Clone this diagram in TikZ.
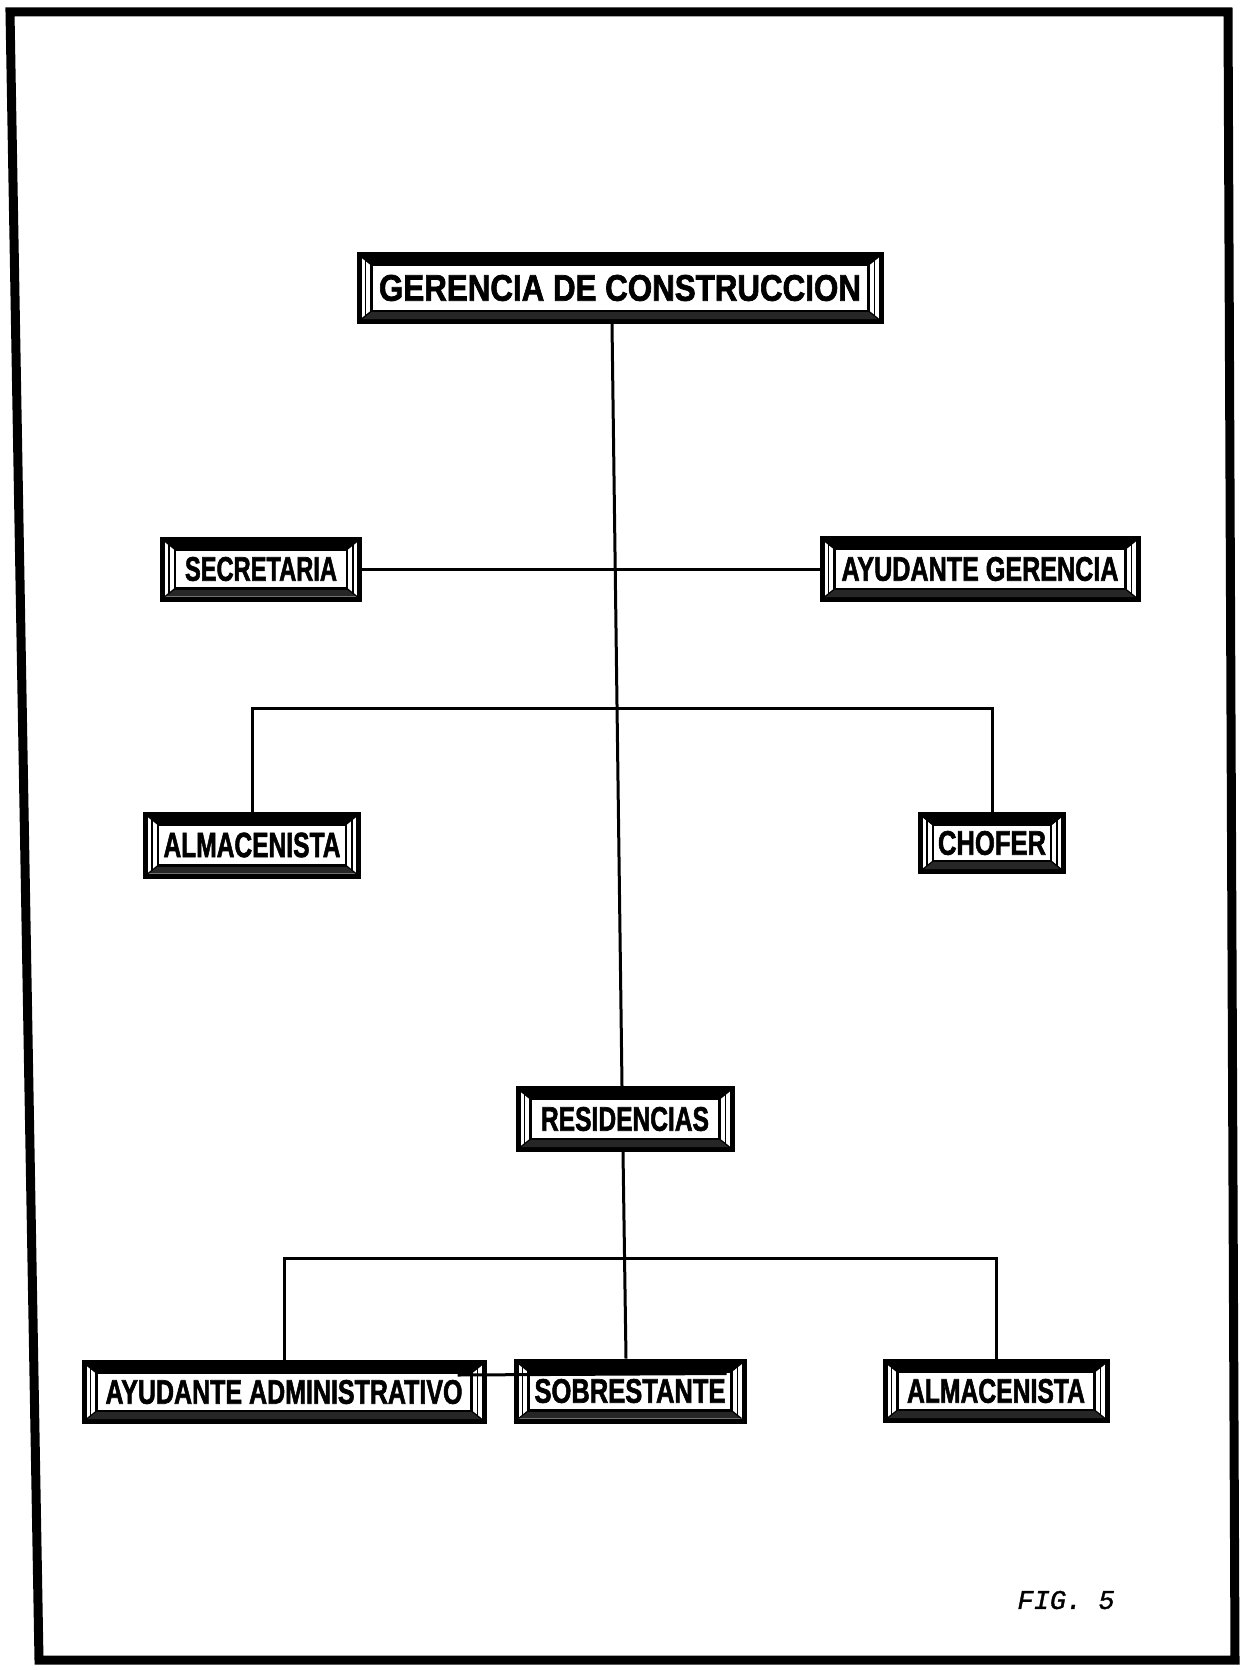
\documentclass[tikz,border=0pt]{standalone}
\usepackage{fontspec}
\usepackage{graphicx}
\usetikzlibrary{backgrounds,calc}
\newfontfamily\orgfont[FakeBold=2]{Liberation Sans}
\newfontfamily\figfont[FakeBold=1.2]{Liberation Mono}
\tikzset{
  orgnode/.style={rectangle, inner sep=0pt, outer sep=0pt},
  conn/.style={line width=3pt, black},
  frameline/.style={line width=9pt, line join=miter, black},
}
\newcommand\myorgframe[1]{%
  \fill[black] (#1.north west) rectangle (#1.south east);
  \fill[white] ([shift={(5,5)}]#1.north west) rectangle ([shift={(-5,-5)}]#1.south east);
  \fill[black] ([shift={(5,5)}]#1.north west) -- ([shift={(-5,5)}]#1.north east)
     -- ([shift={(-15,13)}]#1.north east) -- ([shift={(15,13)}]#1.north west) -- cycle;
  \fill[black!85] ([shift={(5,-5)}]#1.south west) -- ([shift={(-5,-5)}]#1.south east)
     -- ([shift={(-15,-13)}]#1.south east) -- ([shift={(15,-13)}]#1.south west) -- cycle;
  \draw[line width=1.2pt] ([shift={(5,5)}]#1.north west) -- ([shift={(15,13)}]#1.north west)
     ([shift={(-5,5)}]#1.north east) -- ([shift={(-15,13)}]#1.north east)
     ([shift={(5,-5)}]#1.south west) -- ([shift={(15,-13)}]#1.south west)
     ([shift={(-5,-5)}]#1.south east) -- ([shift={(-15,-13)}]#1.south east);
  \draw[line width=1.5pt] ([shift={(9,8)}]#1.north west) -- ([shift={(9,-8)}]#1.south west)
     ([shift={(-9,8)}]#1.north east) -- ([shift={(-9,-8)}]#1.south east);
  \draw[line width=2.5pt, fill=white] ([shift={(15,13)}]#1.north west) rectangle ([shift={(-15,-13)}]#1.south east);
}
\newcommand\myorgbox[8]{%
  \node[orgnode, minimum width=#4pt, minimum height=#5pt] (#1) at (#2,#3)
    {\resizebox{#6pt}{\height}{\fontsize{#8}{#8}\orgfont\bfseries #7}};
  \begin{pgfonlayer}{background}\myorgframe{#1}\end{pgfonlayer}%
}
\begin{document}
\begin{tikzpicture}[x=1pt,y=-1pt]
\useasboundingbox (0,0) rectangle (1243,1670);
% outer frame
\draw[frameline] (10,12) -- (1228,12) -- (1235,1660) -- (39,1660) -- cycle;

\myorgbox{ger}{620}{288}{527}{72}{482}{GERENCIA DE CONSTRUCCION}{37}
\myorgbox{sec}{261}{569}{202}{65}{152}{SECRETARIA}{34}
\myorgbox{ayg}{980}{569}{321}{66}{277}{AYUDANTE GERENCIA}{34}
\myorgbox{almA}{252}{845}{218}{67}{177}{ALMACENISTA}{35}
\myorgbox{chof}{992}{843}{148}{62}{108}{CHOFER}{34}
\myorgbox{res}{625}{1119}{219}{66}{168}{RESIDENCIAS}{34}
\myorgbox{aya}{284}{1392}{405}{64}{357}{AYUDANTE ADMINISTRATIVO}{34}
\myorgbox{sob}{630}{1391}{233}{65}{191}{SOBRESTANTE}{34}
\myorgbox{almB}{996}{1391}{227}{64}{178}{ALMACENISTA}{34}

\coordinate (barA) at (0,708);
\coordinate (barB) at (0,1258);

\draw[conn] ([xshift=-8]ger.south) -- ([xshift=-3]res.north);
\draw[conn] (sec.east) -- (ayg.west);
\draw[conn] (almA.north) -- (almA.north |- barA) -- (chof.north |- barA) -- (chof.north);
\draw[conn] ([xshift=-2]res.south) -- ([xshift=-4]sob.north);
\draw[conn] (aya.north) -- (aya.north |- barB) -- (almB.north |- barB) -- (almB.north);
\draw[conn] ([shift={(-29,15)}]aya.north east) -- ([shift={(-20,15)}]sob.north east);

\node[font=\fontsize{27}{27}\selectfont\figfont\itshape] (fig) at (1066,1600) {FIG. 5};
\end{tikzpicture}
\end{document}
